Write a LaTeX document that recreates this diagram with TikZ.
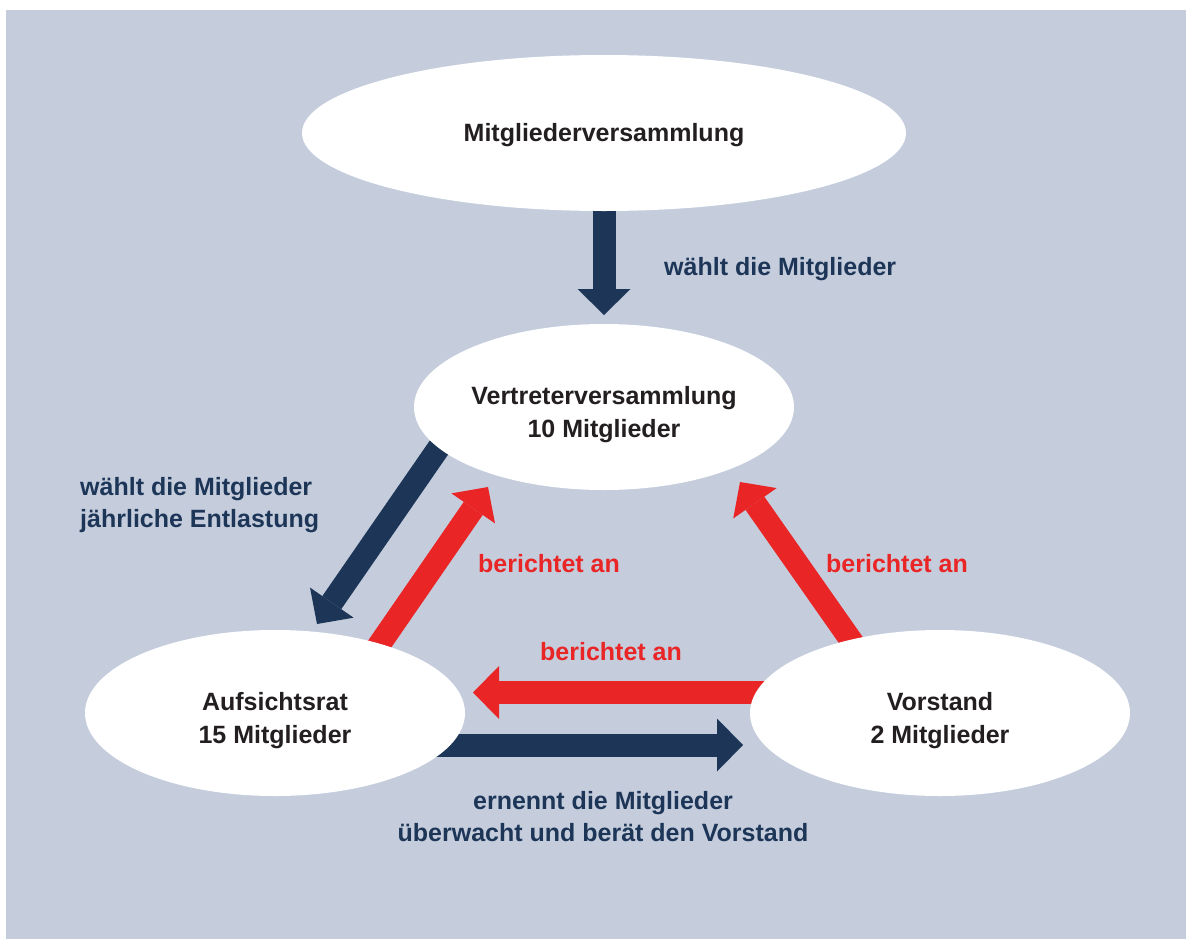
\documentclass[tikz,border=0pt]{standalone}
\usepackage{fontspec}
\setmainfont{Liberation Sans}
\usetikzlibrary{arrows.meta,shapes.geometric,calc}
\definecolor{bgblue}{RGB}{197,205,221}
\definecolor{navy}{RGB}{29,54,88}
\definecolor{redarr}{RGB}{233,37,38}
\definecolor{txt}{RGB}{35,31,32}
\pgfdeclarelayer{bg}
\pgfdeclarelayer{arr}
\pgfsetlayers{bg,arr,main}
\newcommand{\toppad}{\rule{0pt}{34pt}}
\begin{document}
\begin{tikzpicture}[x=1pt,y=-1pt,
  oval/.style={ellipse,fill=white,inner sep=0pt,minimum width=380pt,minimum height=166pt,
    font=\fontsize{25}{33}\selectfont\bfseries,text=txt,align=center},
  lbl/.style={font=\fontsize{25}{32}\selectfont\bfseries,inner sep=0pt},
  navyarrow/.style={draw=navy,line width=23pt,-{Triangle[width=53pt,length=26pt,line width=0pt]}},
  redarrow/.style={draw=redarr,line width=23pt,-{Triangle[width=53pt,length=26pt,line width=0pt]}}]
\useasboundingbox (0,0) rectangle (1187,940);
\begin{pgfonlayer}{bg}
  \fill[white] (0,0) rectangle (1187,940);
  \fill[bgblue] (6,10) rectangle (1186,939);
\end{pgfonlayer}
% ovals
\node[oval,minimum width=604pt,minimum height=156pt] (mv) at (604,133) {\rule{0pt}{22pt}Mitgliederversammlung};
\node[oval] (vv) at (604,407) {\toppad Vertreterversammlung\\10 Mitglieder};
\node[oval] (ar) at (275,713) {\toppad Aufsichtsrat\\15 Mitglieder};
\node[oval] (vs) at (940,713) {\toppad Vorstand\\2 Mitglieder};
% arrow ends
\coordinate (t1) at (604,315);
\coordinate (s2) at ($(vv.center)+(-155,26)$);
\coordinate (t2) at (317,624);
\coordinate (s3) at ($(ar.center)+(93,-52)$);
\coordinate (t3) at (488,487);
\coordinate (s4) at ($(vs.center)+(-78,-57)$);
\coordinate (t4) at (740,482);
\coordinate (s5) at ($(vs.center)+(-150,-20.5)$);
\coordinate (t5) at (473,692.5);
\coordinate (s6) at ($(ar.center)+(120,32)$);
\coordinate (t6) at (743,745);
\begin{pgfonlayer}{arr}
  \draw[navyarrow] (mv) -- (t1);
  \draw[navyarrow] (s2) -- (t2);
  \draw[redarrow] (s3) -- (t3);
  \draw[redarrow] (s4) -- (t4);
  \draw[redarrow] (s5) -- (t5);
  \draw[navyarrow] (s6) -- (t6);
\end{pgfonlayer}
% labels
\node[lbl,text=navy,anchor=west] (l1) at (664,269) {wählt die Mitglieder};
\node[lbl,text=navy,anchor=west,align=left] (l2) at (80,505) {wählt die Mitglieder\\jährliche Entlastung};
\node[lbl,text=redarr,anchor=west] (l3) at (478,564) {berichtet an};
\node[lbl,text=redarr,anchor=west] (l4) at (826,564) {berichtet an};
\node[lbl,text=redarr,anchor=west] (l5) at (540,652) {berichtet an};
\node[lbl,text=navy,align=center] (l6) at (603,817) {ernennt die Mitglieder\\überwacht und berät den Vorstand};
\end{tikzpicture}
\end{document}
